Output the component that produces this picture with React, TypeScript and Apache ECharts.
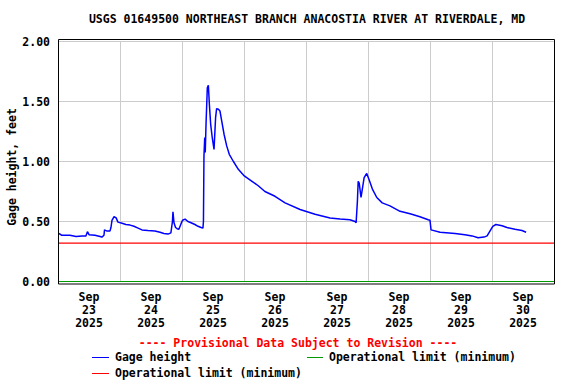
import React, { useEffect, useRef } from "react";
import * as echarts from "echarts";

// Hours since Sep 23 2025 00:00
const hours = [
  0.4, 1.5, 4.6, 7.0, 9.3, 10.8, 11.4, 12.0, 14.3, 16.3, 17.0, 17.8, 18.0, 19.0, 20.1, 20.5, 20.9, 21.7, 22.5, 23.2,
  24.8, 26.3, 27.9, 29.4, 31.0, 32.5, 34.8, 37.5, 39.5, 41.0, 42.6, 43.7, 44.3, 44.5, 44.9, 45.5, 46.1, 46.8, 47.6,
  48.2, 49.2, 50.3, 51.5, 53.0, 54.2, 55.4, 56.1, 56.3, 56.5, 56.8, 57.0, 57.3, 57.8, 58.2, 58.6, 59.1, 59.7, 60.4,
  61.0, 61.4, 62.1, 62.7, 63.4, 64.3, 65.3, 66.3, 67.9, 69.8, 72.1, 75.1, 77.4, 80.1, 84.0, 87.9, 93.7, 99.5, 105.3,
  109.2, 113.0, 115.0, 115.4, 115.9, 116.2, 116.6, 117.3, 117.8, 118.5, 119.5, 120.4, 121.7, 123.4, 125.5, 128.5,
  132.4, 136.3, 140.1, 143.3, 144.0, 144.4, 147.9, 153.7, 157.5, 160.3, 162.6, 164.9, 166.1, 167.2, 168.3, 169.5,
  171.9, 173.8, 176.9, 179.6, 181.2,
];
const gageHeight = [
  0.4, 0.385, 0.385, 0.375, 0.38, 0.38, 0.415, 0.39, 0.385, 0.375, 0.37, 0.385, 0.43, 0.42, 0.42, 0.45, 0.51, 0.54, 0.53, 0.495,
  0.485, 0.475, 0.47, 0.46, 0.445, 0.43, 0.425, 0.42, 0.41, 0.4, 0.395, 0.405, 0.5, 0.58, 0.49, 0.45, 0.44, 0.435, 0.48,
  0.51, 0.52, 0.5, 0.49, 0.475, 0.46, 0.45, 0.445, 0.5, 1.045, 1.2, 1.075, 1.31, 1.615, 1.635, 1.475, 1.31, 1.2, 1.1,
  1.365, 1.44, 1.435, 1.42, 1.335, 1.225, 1.13, 1.06, 1.0, 0.935, 0.88, 0.835, 0.8, 0.75, 0.71, 0.655, 0.6, 0.56, 0.53,
  0.52, 0.515, 0.5, 0.49, 0.67, 0.835, 0.82, 0.7, 0.77, 0.865, 0.9, 0.85, 0.77, 0.7, 0.655, 0.63,
  0.585, 0.565, 0.54, 0.515, 0.51, 0.43, 0.41, 0.4, 0.39, 0.38, 0.365, 0.37, 0.38, 0.42, 0.46, 0.475,
  0.465, 0.45, 0.435, 0.425, 0.41,
];
const operationalLimitRed = 0.32;
const operationalLimitGreen = 0.0;
const month = "Sep";
const days = ["23", "24", "25", "26", "27", "28", "29", "30"];
const year = "2025";
const yTicks = [0, 0.5, 1.0, 1.5, 2.0];

const FONT = "'DejaVu Sans Mono', 'Liberation Mono', monospace";
const FS = 11.5;

export default function App() {
  const ref = useRef<HTMLDivElement>(null);
  useEffect(() => {
    if (!ref.current) return;
    const chart = echarts.init(ref.current, null, { renderer: "svg" });
    const gridL = 58, gridT = 41.5, gridW = 496, gridH = 240;
    const xMax = days.length * 24;
    const txt = { fontFamily: FONT, fontSize: FS, fontWeight: "bold" as const };
    chart.setOption({
      animation: false,
      backgroundColor: "#ffffff",
      grid: { left: gridL, top: gridT, width: gridW, height: gridH, containLabel: false },
      xAxis: [
        {
          type: "value", min: 0, max: xMax, interval: 12,
          axisLine: { show: false }, axisTick: { show: false }, splitLine: { show: false },
          axisLabel: {
            ...txt, color: "#000", margin: 9, lineHeight: 13, showMinLabel: true, showMaxLabel: true,
            formatter: (v: number) => {
              if (Math.round(v) % 24 === 12) {
                const i = (Math.round(v) - 12) / 24;
                return `${month}\n${days[i]}\n${year}`;
              }
              return "";
            },
          },
        },
        {
          type: "value", min: 0, max: xMax, interval: 24, position: "bottom",
          axisLine: { show: false }, axisTick: { show: false }, axisLabel: { show: false },
          splitLine: { show: true, lineStyle: { color: "#cccccc", width: 1 } },
        },
      ],
      yAxis: {
        type: "value", min: yTicks[0], max: yTicks[yTicks.length - 1], interval: 0.5,
        axisLine: { show: false }, axisTick: { show: false },
        splitLine: { show: true, lineStyle: { color: "#cccccc", width: 1 } },
        axisLabel: { ...txt, color: "#000", margin: 8, formatter: (v: number) => v.toFixed(2) },
      },
      series: [
        {
          type: "line", name: "Operational limit (minimum) green", xAxisIndex: 0, clip: false,
          data: [[0, operationalLimitGreen], [xMax, operationalLimitGreen]],
          symbol: "none", lineStyle: { color: "#009900", width: 1.2 }, z: 5,
        },
        {
          type: "line", name: "Operational limit (minimum)", xAxisIndex: 0, clip: false,
          data: [[0, operationalLimitRed], [xMax, operationalLimitRed]],
          symbol: "none", lineStyle: { color: "#ff0000", width: 1.2 }, z: 3,
        },
        {
          type: "line", name: "Gage height", xAxisIndex: 0,
          data: hours.map((h, i) => [h, gageHeight[i]]),
          symbol: "none", lineStyle: { color: "#0000ff", width: 1.5 }, z: 4,
        },
      ],
      graphic: [
        {
          type: "rect", z: 10, silent: true,
          shape: { x: 58.5, y: 39.5, width: 496, height: 244.5 },
          style: { fill: "none", stroke: "#000", lineWidth: 1 },
        },
        {
          type: "text", x: 307, y: 19,
          style: { text: "USGS 01649500 NORTHEAST BRANCH ANACOSTIA RIVER AT RIVERDALE, MD", ...txt, fill: "#000", align: "center", verticalAlign: "middle" },
        },
        {
          type: "text", x: 12, y: 167, rotation: Math.PI / 2,
          style: { text: "Gage height, feet", ...txt, fill: "#000", align: "center", verticalAlign: "middle" },
        },
        {
          type: "text", x: 298, y: 343,
          style: { text: "---- Provisional Data Subject to Revision ----", ...txt, fill: "#ff0000", align: "center", verticalAlign: "middle" },
        },
        { type: "rect", shape: { x: 92, y: 357, width: 17, height: 1 }, style: { fill: "#0000ff" } },
        { type: "text", x: 115, y: 357, style: { text: "Gage height", ...txt, fill: "#000", align: "left", verticalAlign: "middle" } },
        { type: "rect", shape: { x: 307, y: 357, width: 16, height: 1 }, style: { fill: "#009900" } },
        { type: "text", x: 329, y: 357, style: { text: "Operational limit (minimum)", ...txt, fill: "#000", align: "left", verticalAlign: "middle" } },
        { type: "rect", shape: { x: 92, y: 373, width: 17, height: 1 }, style: { fill: "#ff0000" } },
        { type: "text", x: 115, y: 373, style: { text: "Operational limit (minimum)", ...txt, fill: "#000", align: "left", verticalAlign: "middle" } },
      ],
    });
    return () => chart.dispose();
  }, []);
  return <div ref={ref} style={{ width: 576, height: 384, position: "absolute", left: 0, top: 0 }} />;
}
